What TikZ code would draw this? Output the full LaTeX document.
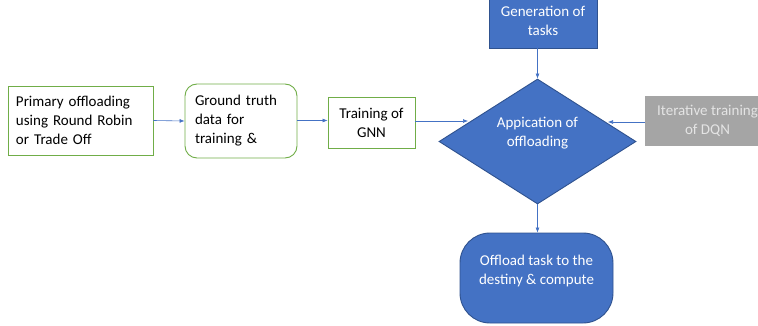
\documentclass[tikz,border=0pt]{standalone}
\usepackage{fontspec}
\setmainfont{Carlito}
\usetikzlibrary{shapes.geometric,arrows.meta}
\definecolor{ogreen}{HTML}{70AD47}
\definecolor{oblue}{HTML}{4472C4}
\definecolor{oblueline}{HTML}{2F528F}
\definecolor{ogray}{HTML}{A5A5A5}
\definecolor{ograytext}{HTML}{E4E4E4}
\begin{document}
\begin{tikzpicture}[x=1pt,y=-1pt,
  every node/.style={font=\fontsize{15}{19}\selectfont, inner sep=0pt},
  greenbox/.style={draw=ogreen, line width=0.9pt, fill=white, text=black},
  bluebox/.style={draw=oblueline, line width=0.9pt, fill=oblue, text=white},
  link/.style={draw=oblue, line width=0.6pt, -{Latex[length=5pt,width=4pt]}}]
\useasboundingbox (0,0) rectangle (758,326);

% left-hand chain of steps
\node[greenbox, minimum width=145pt, minimum height=69pt, text width=129pt,
      inner xsep=8pt, align=left] (prim) at (80.5,120.5)
  {Primary offloading\\using Round Robin\\or Trade Off};
\node[greenbox, rounded corners=12pt, minimum width=112pt, minimum height=74pt,
      text width=92pt, inner xsep=10pt, align=left] (truth) at (241,121)
  {Ground truth\\data for\\training \&};
\node[greenbox, minimum width=87pt, minimum height=51pt, align=center] (gnn) at (371.5,122.5)
  {Training of\\GNN};

% central decision and its inputs
\node[bluebox, minimum width=108pt, minimum height=49pt] (gen) at (543,23.5) {};
\node[text=white, align=center] at (543,21) {Generation of\\tasks};
\node[bluebox, diamond, aspect=1.576, minimum width=197pt, minimum height=125pt] (dia) at (537.5,141.5) {};
\node[text=white, align=center] at (537.5,133) {Appication of\\offloading};
\node[fill=ogray, minimum width=125pt, minimum height=50pt, text=ograytext, align=center] (dqn) at (707.5,121)
  {Iterative training\\of DQN};

% terminal step
\node[bluebox, rounded corners=30pt, minimum width=153pt, minimum height=90pt] (term) at (536.5,278) {};
\node[text=white, align=center] at (536.5,271) {Offload task to the\\destiny \& compute};

% connectors
\draw[link] (prim.east) -- (truth.west);
\draw[link] (truth.east |- 0,120.5) -- (gnn.west |- 0,120.5);
\coordinate (gnnin) at (468,121);
\draw[link] (gnn.east |- gnnin) -- (gnnin);
\draw[link] (gen.south -| dia.north) -- (dia.north);
\coordinate (dqnin) at (608,122);
\draw[link] (dqn.west |- dqnin) -- (dqnin);
\draw[link] (dia.south) -- (term.north -| dia.south);
\end{tikzpicture}
\end{document}
